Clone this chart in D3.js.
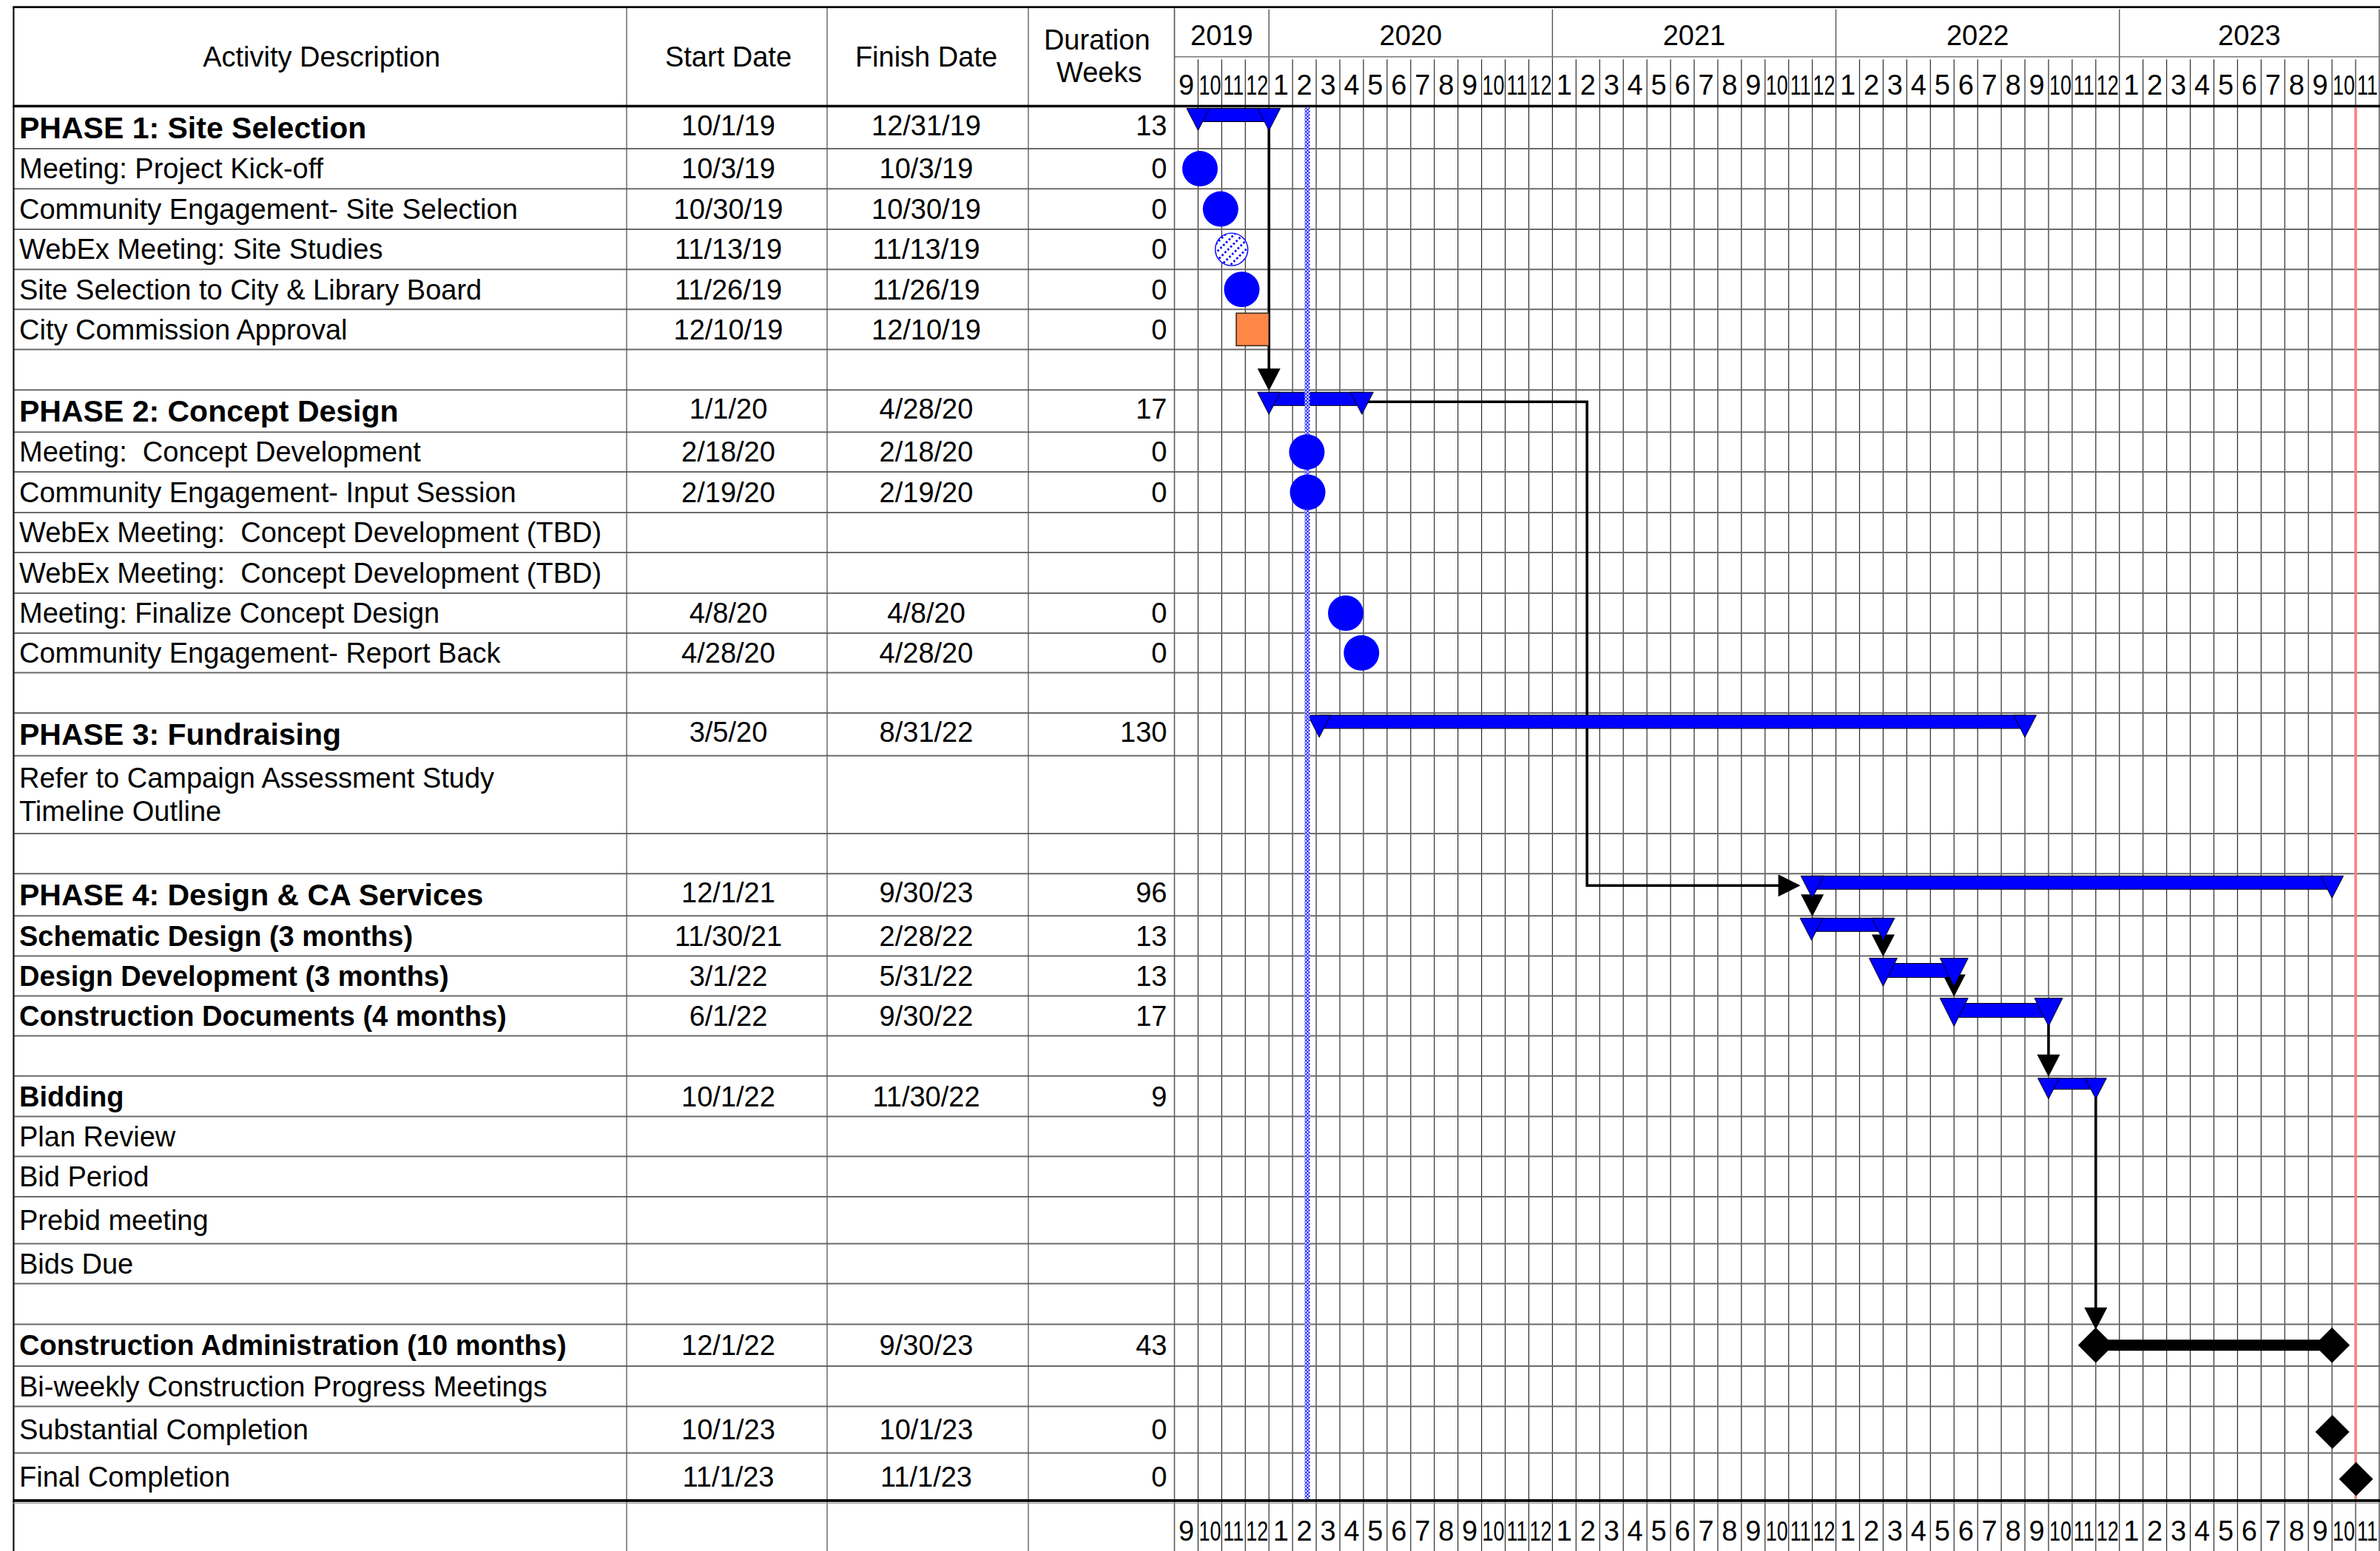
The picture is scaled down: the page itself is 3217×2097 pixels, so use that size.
<!DOCTYPE html>
<html><head><meta charset="utf-8">
<script src="https://cdn.jsdelivr.net/npm/d3@7"></script>
<style>html,body{margin:0;padding:0;background:#fff;} svg{display:block;}</style>
</head><body><svg id="chart"></svg>
<script>
// ================= DATA =================
const activities = [
  "PHASE 1: Site Selection", "Meeting: Project Kick-off", "Community Engagement- Site Selection",
  "WebEx Meeting: Site Studies", "Site Selection to City & Library Board", "City Commission Approval", "",
  "PHASE 2: Concept Design", "Meeting:  Concept Development", "Community Engagement- Input Session",
  "WebEx Meeting:  Concept Development (TBD)", "WebEx Meeting:  Concept Development (TBD)",
  "Meeting: Finalize Concept Design", "Community Engagement- Report Back", "",
  "PHASE 3: Fundraising", "Refer to Campaign Assessment Study\nTimeline Outline", "",
  "PHASE 4: Design & CA Services", "Schematic Design (3 months)", "Design Development (3 months)",
  "Construction Documents (4 months)", "",
  "Bidding", "Plan Review", "Bid Period", "Prebid meeting", "Bids Due", "",
  "Construction Administration (10 months)", "Bi-weekly Construction Progress Meetings",
  "Substantial Completion", "Final Completion"
];
const startDates = [
  "10/1/19", "10/3/19", "10/30/19", "11/13/19", "11/26/19", "12/10/19", "",
  "1/1/20", "2/18/20", "2/19/20", "", "", "4/8/20", "4/28/20", "",
  "3/5/20", "", "",
  "12/1/21", "11/30/21", "3/1/22", "6/1/22", "",
  "10/1/22", "", "", "", "", "",
  "12/1/22", "", "10/1/23", "11/1/23"
];
const finishDates = [
  "12/31/19", "10/3/19", "10/30/19", "11/13/19", "11/26/19", "12/10/19", "",
  "4/28/20", "2/18/20", "2/19/20", "", "", "4/8/20", "4/28/20", "",
  "8/31/22", "", "",
  "9/30/23", "2/28/22", "5/31/22", "9/30/22", "",
  "11/30/22", "", "", "", "", "",
  "9/30/23", "", "10/1/23", "11/1/23"
];
const durationWeeks = [
  13, 0, 0, 0, 0, 0, null,
  17, 0, 0, null, null, 0, 0, null,
  130, null, null,
  96, 13, 13, 17, null,
  9, null, null, null, null, null,
  43, null, 0, 0
];
// row level: phase / task (bold) / item (regular) / blank
const rowLevel = [
  "phase", "item", "item", "item", "item", "item", "blank",
  "phase", "item", "item", "item", "item", "item", "item", "blank",
  "phase", "item", "blank",
  "phase", "task", "task", "task", "blank",
  "task", "item", "item", "item", "item", "blank",
  "task", "item", "item", "item"
];
// mark kind per row
const markKind = [
  "summary", "meeting", "meeting", "webex", "meeting", "approval", null,
  "summary", "meeting", "meeting", null, null, "meeting", "meeting", null,
  "summary", null, null,
  "summary", "design", "designMain", "designMain", null,
  "bidding", null, null, null, null, null,
  "construction", null, "completion", "completion"
];
// dependency links (from row, anchor date of that row, to row)
const linkFrom   = ["PHASE 1: Site Selection", "PHASE 2: Concept Design", "PHASE 4: Design & CA Services",
                    "Schematic Design (3 months)", "Design Development (3 months)",
                    "Construction Documents (4 months)", "Bidding"];
const linkAnchor = ["finish", "finish", "start", "finish", "finish", "finish", "finish"];
const linkTo     = ["PHASE 2: Concept Design", "PHASE 4: Design & CA Services", "Schematic Design (3 months)",
                    "Design Development (3 months)", "Construction Documents (4 months)",
                    "Bidding", "Construction Administration (10 months)"];
const linkBendDate = [null, "2/14/21", null, null, null, null, null];

const todayDate = "2/19/20";
const deadlineDate = "11/1/23";
const timelineStart = "9/1/19";
const timelineEnd = "12/1/23";
const tableHeaders = ["Activity Description", "Start Date", "Finish Date"];
const durationHeader = ["Duration", "Weeks"];

// ================= LAYOUT / STYLE =================
const W = 3217, H = 2097;
const FONT = "'Liberation Sans', Arial, Helvetica, sans-serif";
const colEdges = [18.4, 847, 1118, 1390, 1587.5];
const ganttLeft = 1587.5, ganttRight = 3216;
const headerTop = 9.6, yearBottom = 76.7, headerBottom = 143.5;
const rowEdges = [143.5, 200.9, 255.2, 310, 364.3, 418.2, 472.6, 527.3, 584.3, 638, 693, 747, 802, 856,
  909.6, 963.9, 1021.7, 1126.9, 1181.3, 1238.3, 1292.6, 1346.6, 1400.5, 1454.8, 1509.6, 1563.6,
  1617.9, 1681.4, 1735.4, 1790.5, 1847.1, 1901.5, 1964.6, 2028.9];
const footerBottom = H;
const BLUE = "#0000FF";
const barStyle = {
  summary:    {triW: 31, triH: 30, barH: 18, barDy: 0},
  design:     {triW: 31, triH: 30, barH: 18, barDy: 0},
  designMain: {triW: 38, triH: 38, barH: 19, barDy: 7},
  bidding:    {triW: 29, triH: 28, barH: 15, barDy: 0}
};
const textStyle = {
  phase: {size: 41, weight: "bold"},
  task:  {size: 38, weight: "bold"},
  item:  {size: 38, weight: "normal"},
  blank: {size: 38, weight: "normal"}
};

const parse = d3.timeParse("%m/%d/%y");
const endOf = s => d3.timeDay.offset(parse(s), 1);

// month-column time scale (equal-width month columns)
const monthStarts = d3.timeMonth.range(parse(timelineStart), d3.timeDay.offset(parse(timelineEnd), 1));
const step = (ganttRight - ganttLeft) / (monthStarts.length - 1);
const x = d3.scaleTime()
  .domain(monthStarts)
  .range(monthStarts.map((d, i) => ganttLeft + i * step));

const rowIdx = name => activities.indexOf(name);
const rowTop = i => rowEdges[i];
const rowMid = i => (rowEdges[i] + rowEdges[i + 1]) / 2;

const svg = d3.select("#chart").attr("width", W).attr("height", H)
  .attr("font-family", FONT);
svg.append("rect").attr("width", W).attr("height", H).attr("fill", "#fff");

const defs = svg.append("defs");
const chk = defs.append("pattern").attr("id", "checker").attr("patternUnits", "userSpaceOnUse")
  .attr("width", 4.6).attr("height", 4.6);
chk.append("rect").attr("width", 4.6).attr("height", 4.6).attr("fill", "#fff");
chk.append("rect").attr("width", 2.3).attr("height", 2.3).attr("fill", BLUE);
chk.append("rect").attr("x", 2.3).attr("y", 2.3).attr("width", 2.3).attr("height", 2.3).attr("fill", BLUE);
const hatch = defs.append("pattern").attr("id", "hatch").attr("patternUnits", "userSpaceOnUse")
  .attr("width", 5.4).attr("height", 8.5).attr("patternTransform", "rotate(-45)");
hatch.append("rect").attr("width", 5.4).attr("height", 8.5).attr("fill", "#fff");
hatch.append("rect").attr("width", 2.7).attr("height", 2.7).attr("fill", BLUE);

// ================= GRID =================
const grid = svg.append("g");
const months = monthStarts.slice(0, -1);
grid.selectAll("line.month").data(monthStarts).join("line")
  .attr("x1", d => x(d)).attr("x2", d => x(d))
  .attr("y1", yearBottom + 3.5).attr("y2", footerBottom)
  .attr("stroke", "#2a2a2a").attr("stroke-width", 1.2);
const yearStarts = monthStarts.filter((d, i) => i === 0 || d.getMonth() === 0 || i === monthStarts.length - 1);
grid.selectAll("line.year").data(yearStarts).join("line")
  .attr("x1", d => x(d)).attr("x2", d => x(d))
  .attr("y1", headerTop + 3).attr("y2", yearBottom + 4)
  .attr("stroke", "#555").attr("stroke-width", 1.4);
grid.selectAll("line.row").data(rowEdges.slice(1, -1)).join("line")
  .attr("x1", colEdges[0]).attr("x2", W)
  .attr("y1", d => d).attr("y2", d => d)
  .attr("stroke", "#6a6a6a").attr("stroke-width", 2);
grid.append("line").attr("x1", ganttLeft).attr("x2", W).attr("y1", yearBottom).attr("y2", yearBottom)
  .attr("stroke", "#777").attr("stroke-width", 1.6);
grid.selectAll("line.col").data(colEdges).join("line")
  .attr("x1", d => d).attr("x2", d => d)
  .attr("y1", headerTop).attr("y2", footerBottom)
  .attr("stroke", (d, i) => i === 0 ? "#111" : "#555")
  .attr("stroke-width", (d, i) => i === 0 ? 2.2 : 1.3);
grid.append("line").attr("x1", colEdges[0] - 1).attr("x2", W).attr("y1", headerTop).attr("y2", headerTop)
  .attr("stroke", "#000").attr("stroke-width", 2.6);
grid.append("line").attr("x1", colEdges[0] - 1).attr("x2", W).attr("y1", headerBottom).attr("y2", headerBottom)
  .attr("stroke", "#000").attr("stroke-width", 3.6);
const lastEdge = rowEdges[rowEdges.length - 1];
grid.append("line").attr("x1", colEdges[0] - 1).attr("x2", W).attr("y1", lastEdge).attr("y2", lastEdge)
  .attr("stroke", "#000").attr("stroke-width", 3.6);
grid.append("line").attr("x1", colEdges[0] - 1).attr("x2", W).attr("y1", lastEdge + 3.5).attr("y2", lastEdge + 3.5)
  .attr("stroke", "#999").attr("stroke-width", 1.2);

// ================= HEADER TEXT =================
const hdr = svg.append("g").attr("font-size", 38).attr("fill", "#000");
const hdrMid = (headerTop + headerBottom) / 2;
hdr.selectAll("text.h").data(tableHeaders).join("text")
  .attr("x", (d, i) => (colEdges[i] + colEdges[i + 1]) / 2 + (i === 2 ? -2 : 2))
  .attr("y", hdrMid + 13.3).attr("text-anchor", "middle").text(d => d);
hdr.selectAll("text.dur").data(durationHeader).join("text")
  .attr("x", (d, i) => (colEdges[3] + colEdges[4]) / 2 - 6 + i * 3)
  .attr("y", (d, i) => [67, 111][i]).attr("text-anchor", "middle").text(d => d);

// year labels
const yearGroups = d3.groups(months, d => d.getFullYear());
hdr.selectAll("text.year").data(yearGroups).join("text")
  .attr("x", d => (x(d[1][0]) + x(d3.timeMonth.offset(d[1][d[1].length - 1], 1))) / 2)
  .attr("y", 61).attr("text-anchor", "middle").text(d => d[0]);
// month labels (top and bottom); two-digit labels narrowed to fit their column
[127.7, 2083].forEach(by => {
  hdr.append("g").selectAll("text").data(months).join("text")
    .attr("transform", d => {
      const cx = (x(d) + x(d3.timeMonth.offset(d, 1))) / 2;
      const sx = d.getMonth() + 1 >= 10 ? 0.75 : 1;
      return `translate(${cx},${by}) scale(${sx},1)`;
    })
    .attr("font-size", d => d.getMonth() + 1 >= 10 ? 36 : 38)
    .attr("text-anchor", "middle").text(d => d.getMonth() + 1);
});

// ================= TABLE TEXT =================
const tbl = svg.append("g").attr("fill", "#000");
activities.forEach((name, i) => {
  const st = textStyle[rowLevel[i]];
  if (name) {
    const lines = name.split("\n");
    const lh = 45;
    const y0 = rowMid(i) + 0.35 * st.size - (lines.length - 1) * lh / 2;
    const t = tbl.append("text").attr("x", 26).attr("font-size", st.size).attr("font-weight", st.weight)
      .attr("xml:space", "preserve").style("white-space", "pre");
    lines.forEach((ln, k) => t.append("tspan").attr("x", 26).attr("y", y0 + k * lh).text(ln));
  }
  const by = rowMid(i) + 13.3 - (rowLevel[i] === "phase" ? 3 : 0);
  if (startDates[i]) tbl.append("text").attr("x", (colEdges[1] + colEdges[2]) / 2 + 2).attr("y", by)
    .attr("font-size", 38).attr("text-anchor", "middle").text(startDates[i]);
  if (finishDates[i]) tbl.append("text").attr("x", (colEdges[2] + colEdges[3]) / 2 - 2).attr("y", by)
    .attr("font-size", 38).attr("text-anchor", "middle").text(finishDates[i]);
  if (durationWeeks[i] !== null) tbl.append("text").attr("x", colEdges[4] - 10).attr("y", by)
    .attr("font-size", 38).attr("text-anchor", "end").text(durationWeeks[i]);
});

// ================= CHART MARKS =================
const marks = svg.append("g");

// deadline (red) line
marks.append("line").attr("x1", x(parse(deadlineDate))).attr("x2", x(parse(deadlineDate)))
  .attr("y1", headerBottom + 2).attr("y2", lastEdge - 2)
  .attr("stroke", "#FF8080").attr("stroke-width", 3.6);

// connectors
const linkG = marks.append("g");
function triTopOf(i) { return rowTop(i) + 3; }
function arrowDown(xx, tip) {
  linkG.append("path")
    .attr("d", `M${xx - 15.5},${tip - 30}L${xx + 15.5},${tip - 30}L${xx},${tip}Z`)
    .attr("fill", "#000");
}
linkFrom.forEach((fname, k) => {
  const fi = rowIdx(fname), ti = rowIdx(linkTo[k]);
  const ax = linkAnchor[k] === "start" ? x(parse(startDates[fi])) : x(endOf(finishDates[fi]));
  if (linkBendDate[k]) {
    const y0 = triTopOf(fi) + 13, y1 = triTopOf(ti) + 13;
    const bx = x(parse(linkBendDate[k]));
    const tipX = x(parse(startDates[ti])) - 16;
    linkG.append("path").attr("d", `M${ax},${y0}H${bx}V${y1}H${tipX - 28}`)
      .attr("fill", "none").attr("stroke", "#000").attr("stroke-width", 3.6);
    linkG.append("path").attr("d", `M${tipX - 30},${y1 - 15}L${tipX},${y1}L${tipX - 30},${y1 + 15}Z`)
      .attr("fill", "#000");
  } else {
    const tip = markKind[ti] === "construction" ? rowMid(ti) - 21 : rowTop(ti) + 1;
    linkG.append("line").attr("x1", ax).attr("x2", ax)
      .attr("y1", triTopOf(fi) + 10).attr("y2", tip - 28)
      .attr("stroke", "#000").attr("stroke-width", 3.6);
    arrowDown(ax, tip);
  }
});

// bars with triangle end markers
activities.forEach((name, i) => {
  const st = barStyle[markKind[i]];
  if (!st) return;
  const x0 = x(parse(startDates[i])), x1 = x(endOf(finishDates[i]));
  const tt = triTopOf(i);
  marks.append("rect").attr("x", x0).attr("y", tt + st.barDy).attr("width", x1 - x0).attr("height", st.barH)
    .attr("fill", BLUE).attr("stroke", "#000").attr("stroke-width", 1);
  [x0, x1].forEach(xx => {
    marks.append("path")
      .attr("d", `M${xx - st.triW / 2},${tt}L${xx + st.triW / 2},${tt}L${xx},${tt + st.triH}Z`)
      .attr("fill", BLUE).attr("stroke", "#000").attr("stroke-width", 0.9);
  });
});

// today line (checkered)
const tx = x(parse(todayDate));
marks.append("rect").attr("x", tx - 3.5).attr("y", headerBottom + 2).attr("width", 7)
  .attr("height", lastEdge - headerBottom - 4).attr("fill", "url(#checker)");

// construction administration thick bar
activities.forEach((name, i) => {
  if (markKind[i] !== "construction") return;
  const x0 = x(parse(startDates[i])), x1 = x(endOf(finishDates[i]));
  const cy = rowMid(i);
  marks.append("line").attr("x1", x0).attr("x2", x1).attr("y1", cy).attr("y2", cy)
    .attr("stroke", "#000").attr("stroke-width", 15);
  [x0, x1].forEach(xx => marks.append("path")
    .attr("d", `M${xx - 24},${cy}L${xx},${cy - 24}L${xx + 24},${cy}L${xx},${cy + 24}Z`).attr("fill", "#000"));
});

// milestones
activities.forEach((name, i) => {
  const k = markKind[i];
  if (!["meeting", "webex", "approval", "completion"].includes(k)) return;
  const mx = x(d3.timeHour.offset(parse(startDates[i]), 12));
  const cy = rowMid(i);
  if (k === "meeting") {
    marks.append("circle").attr("cx", mx).attr("cy", cy).attr("r", 24).attr("fill", BLUE);
  } else if (k === "webex") {
    marks.append("circle").attr("cx", mx).attr("cy", cy).attr("r", 22)
      .attr("fill", "url(#hatch)").attr("stroke", BLUE).attr("stroke-width", 1.4);
  } else if (k === "approval") {
    marks.append("rect").attr("x", mx - 22).attr("y", cy - 22).attr("width", 44).attr("height", 44)
      .attr("fill", "#FF8848").attr("stroke", "#3a2a20").attr("stroke-width", 1.6);
  } else {
    const c = cy + 3;
    marks.append("path").attr("d", `M${mx - 23},${c}L${mx},${c - 23}L${mx + 23},${c}L${mx},${c + 23}Z`)
      .attr("fill", "#000");
  }
});
</script></body></html>
